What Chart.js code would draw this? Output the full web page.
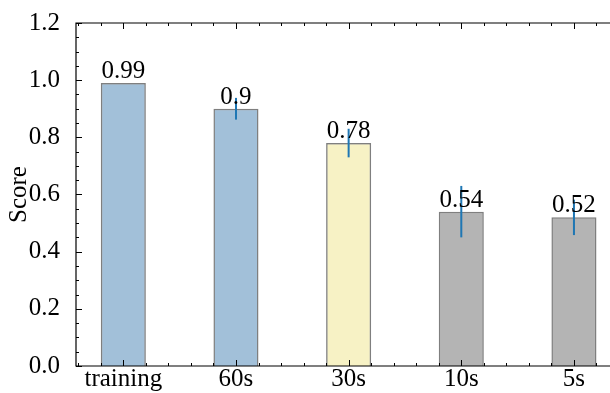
<!DOCTYPE html>
<html>
<head>
<meta charset="utf-8">
<script src="https://cdn.jsdelivr.net/npm/chart.js@4.4.1/dist/chart.umd.min.js"></script>
<style>
  html, body { margin: 0; padding: 0; background: #fff; overflow: hidden; }
  #wrap { width: 610px; height: 393px; position: relative; }
</style>
</head>
<body>
<div id="wrap"><canvas id="scoreChart"></canvas></div>
<script>
const categories = ['training', '60s', '30s', '10s', '5s'];
const scores = [0.99, 0.9, 0.78, 0.54, 0.52];
const errors = [0, 0.038, 0.05, 0.09, 0.062];
const valueLabels = ['0.99', '0.9', '0.78', '0.54', '0.52'];
const yTicks = [0, 0.2, 0.4, 0.6, 0.8, 1.0, 1.2];

const barColors = ['rgba(70,130,180,0.5)', 'rgba(70,130,180,0.5)', 'rgba(240,230,140,0.5)', 'rgba(105,105,105,0.5)', 'rgba(105,105,105,0.5)'];
const edgeColors = 'rgba(0,0,0,0.5)';
const errColor = '#1f77b4';
const serif = 'Liberation Serif';
const fontSize = 25;

const chartElement = document.getElementById('scoreChart');

// error bars, value labels, inward ticks (right side of the frame is cut off in the original)
const extras = {
    id: 'extras',
    afterDatasetsDraw(chart) {
        const ctx = chart.ctx;
        const y = chart.scales.y;
        const meta = chart.getDatasetMeta(0);
        ctx.save();
        meta.data.forEach((bar, i) => {
            if (errors[i] > 0) {
                ctx.strokeStyle = errColor;
                ctx.lineWidth = 2;
                ctx.beginPath();
                ctx.moveTo(bar.x, y.getPixelForValue(scores[i] - errors[i]));
                ctx.lineTo(bar.x, y.getPixelForValue(scores[i] + errors[i]));
                ctx.stroke();
            }
        });
        ctx.fillStyle = '#000';
        ctx.font = fontSize + 'px "' + serif + '"';
        ctx.textAlign = 'center';
        ctx.textBaseline = 'alphabetic';
        meta.data.forEach((bar, i) => {
            ctx.fillText(valueLabels[i], bar.x, bar.y - 5);
        });
        ctx.restore();
    },
    afterDraw(chart) {
        const ctx = chart.ctx;
        const a = chart.chartArea;
        const x = chart.scales.x;
        const y = chart.scales.y;
        ctx.save();
        ctx.strokeStyle = '#000';
        ctx.lineWidth = 1;
        ctx.beginPath();
        for (let k = 0; k <= 24; k++) {
            const py = Math.round(y.getPixelForValue(k * 0.05)) + 0.5;
            const len = k % 4 === 0 ? 6 : 3;
            ctx.moveTo(a.left, py); ctx.lineTo(a.left + len, py);
        }
        for (let k = -2; k <= 21; k++) {
            const px = Math.round(x.getPixelForValue(k * 0.2)) + 0.5;
            const len = k % 5 === 0 ? 6 : 3;
            ctx.moveTo(px, a.bottom); ctx.lineTo(px, a.bottom - len);
            ctx.moveTo(px, a.top); ctx.lineTo(px, a.top + len);
        }
        ctx.stroke();
        ctx.lineWidth = 1.2;
        ctx.beginPath();
        ctx.moveTo(a.right + 2, a.top);
        ctx.lineTo(a.left, a.top);
        ctx.lineTo(a.left, a.bottom);
        ctx.lineTo(a.right + 2, a.bottom);
        ctx.stroke();
        ctx.restore();
    }
};

new Chart(chartElement, {
    type: 'bar',
    data: {
        datasets: [{
            data: scores.map((s, i) => ({ x: i, y: s })),
            backgroundColor: barColors,
            borderColor: edgeColors,
            borderWidth: 1.5,
            barPercentage: 0.4,
            categoryPercentage: 1.0
        }]
    },
    options: {
        responsive: true,
        maintainAspectRatio: false,
        animation: false,
        layout: { padding: { top: 15, right: 0, left: 0, bottom: 0 } },
        plugins: { legend: { display: false }, tooltip: { enabled: false } },
        scales: {
            x: {
                type: 'linear',
                offset: false,
                min: -0.42,
                max: 4.32,
                grid: { display: false, offset: false },
                border: { display: false },
                afterFit: scale => { scale.height = 27; },
                afterBuildTicks: scale => {
                    scale.ticks = categories.map((c, i) => ({ value: i }));
                },
                ticks: {
                    autoSkip: false,
                    maxRotation: 0,
                    padding: -10,
                    color: '#000',
                    font: { family: serif, size: fontSize },
                    callback: v => categories[v]
                }
            },
            y: {
                min: 0,
                max: 1.2,
                grid: { display: false },
                border: { display: false },
                afterFit: scale => { scale.width = 76; },
                afterBuildTicks: scale => {
                    scale.ticks = yTicks.map(v => ({ value: v }));
                },
                ticks: {
                    padding: 8,
                    color: '#000',
                    font: { family: serif, size: fontSize },
                    callback: v => v.toFixed(1)
                },
                title: {
                    display: true,
                    text: 'Score',
                    color: '#000',
                    font: { family: serif, size: fontSize },
                    padding: { top: 4, bottom: 0 }
                }
            }
        }
    },
    plugins: [extras]
});
</script>
</body>
</html>
